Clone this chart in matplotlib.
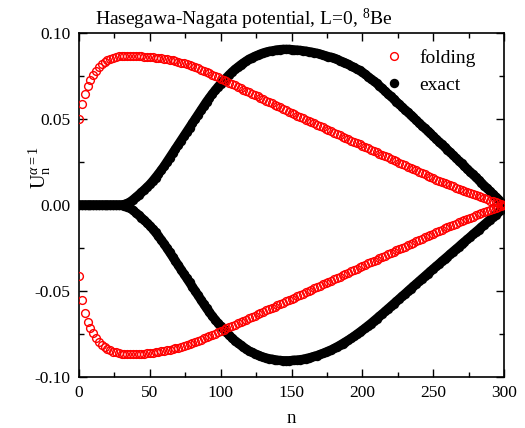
import numpy as np
import matplotlib
matplotlib.use("Agg")
import matplotlib.pyplot as plt
from matplotlib.ticker import MultipleLocator

plt.rcParams['font.family'] = ['Liberation Serif', 'DejaVu Serif']
plt.rcParams['mathtext.fontset'] = 'custom'
plt.rcParams['mathtext.rm'] = 'Liberation Serif'
plt.rcParams['mathtext.it'] = 'Liberation Serif:italic'

# n positions (step 2)
n = np.arange(0, 301, 2)

folding_upper = [
    0.0500, 0.0590, 0.0645, 0.0690, 0.0725, 0.0755, 0.0780, 0.0800, 0.0818, 0.0832,
    0.0843, 0.0851, 0.0857, 0.0861, 0.0864, 0.0866, 0.0867, 0.0868, 0.0868, 0.0868,
    0.0867, 0.0866, 0.0865, 0.0863, 0.0861, 0.0860, 0.0858, 0.0856, 0.0854, 0.0852,
    0.0850, 0.0848, 0.0845, 0.0841, 0.0837, 0.0833, 0.0828, 0.0823, 0.0818, 0.0813,
    0.0808, 0.0801, 0.0794, 0.0787, 0.0780, 0.0773, 0.0765, 0.0758, 0.0750, 0.0743,
    0.0735, 0.0727, 0.0719, 0.0711, 0.0703, 0.0695, 0.0687, 0.0679, 0.0671, 0.0663,
    0.0655, 0.0647, 0.0639, 0.0631, 0.0623, 0.0615, 0.0607, 0.0599, 0.0591, 0.0583,
    0.0575, 0.0567, 0.0559, 0.0551, 0.0543, 0.0536, 0.0528, 0.0520, 0.0513, 0.0505,
    0.0497, 0.0489, 0.0482, 0.0474, 0.0467, 0.0459, 0.0451, 0.0444, 0.0436, 0.0429,
    0.0421, 0.0413, 0.0406, 0.0398, 0.0391, 0.0383, 0.0375, 0.0368, 0.0360, 0.0353,
    0.0345, 0.0337, 0.0330, 0.0322, 0.0315, 0.0307, 0.0299, 0.0292, 0.0284, 0.0277,
    0.0269, 0.0261, 0.0254, 0.0246, 0.0239, 0.0231, 0.0223, 0.0216, 0.0208, 0.0201,
    0.0193, 0.0185, 0.0178, 0.0170, 0.0163, 0.0155, 0.0148, 0.0141, 0.0135, 0.0128,
    0.0121, 0.0114, 0.0108, 0.0101, 0.0095, 0.0088, 0.0082, 0.0075, 0.0069, 0.0062,
    0.0056, 0.0050, 0.0044, 0.0038, 0.0032, 0.0026, 0.0021, 0.0016, 0.0010, 0.0005,
    0.0000,
]

folding_lower = [
    -0.0410, -0.0550, -0.0630, -0.0680, -0.0715, -0.0745, -0.0773, -0.0795, -0.0812, -0.0825,
    -0.0836, -0.0845, -0.0852, -0.0857, -0.0861, -0.0864, -0.0866, -0.0867, -0.0868, -0.0868,
    -0.0868, -0.0867, -0.0866, -0.0865, -0.0863, -0.0861, -0.0859, -0.0857, -0.0854, -0.0851,
    -0.0848, -0.0845, -0.0841, -0.0837, -0.0833, -0.0829, -0.0824, -0.0819, -0.0814, -0.0809,
    -0.0803, -0.0797, -0.0790, -0.0783, -0.0776, -0.0769, -0.0762, -0.0755, -0.0748, -0.0741,
    -0.0733, -0.0726, -0.0718, -0.0711, -0.0703, -0.0696, -0.0688, -0.0681, -0.0673, -0.0666,
    -0.0658, -0.0651, -0.0643, -0.0636, -0.0628, -0.0621, -0.0613, -0.0606, -0.0598, -0.0591,
    -0.0583, -0.0576, -0.0568, -0.0561, -0.0553, -0.0546, -0.0538, -0.0530, -0.0523, -0.0515,
    -0.0508, -0.0500, -0.0492, -0.0485, -0.0477, -0.0470, -0.0462, -0.0454, -0.0447, -0.0439,
    -0.0432, -0.0424, -0.0416, -0.0409, -0.0401, -0.0394, -0.0386, -0.0378, -0.0371, -0.0363,
    -0.0356, -0.0348, -0.0340, -0.0333, -0.0325, -0.0318, -0.0310, -0.0302, -0.0295, -0.0287,
    -0.0280, -0.0272, -0.0264, -0.0257, -0.0249, -0.0242, -0.0234, -0.0226, -0.0219, -0.0211,
    -0.0204, -0.0196, -0.0188, -0.0181, -0.0173, -0.0166, -0.0158, -0.0151, -0.0143, -0.0136,
    -0.0129, -0.0122, -0.0115, -0.0108, -0.0101, -0.0094, -0.0087, -0.0080, -0.0074, -0.0067,
    -0.0061, -0.0054, -0.0048, -0.0042, -0.0036, -0.0030, -0.0024, -0.0018, -0.0012, -0.0006,
    0.0000,
]

exact_upper = [
    0.0000, 0.0000, 0.0000, 0.0000, 0.0000, 0.0000, 0.0000, 0.0000, 0.0000, 0.0000,
    0.0000, 0.0000, 0.0000, 0.0000, 0.0000, 0.0000, 0.0003, 0.0009, 0.0018, 0.0030,
    0.0044, 0.0058, 0.0073, 0.0088, 0.0104, 0.0120, 0.0139, 0.0159, 0.0180, 0.0202,
    0.0225, 0.0250, 0.0275, 0.0300, 0.0325, 0.0350, 0.0375, 0.0400, 0.0425, 0.0450,
    0.0475, 0.0500, 0.0525, 0.0550, 0.0575, 0.0600, 0.0623, 0.0645, 0.0666, 0.0686,
    0.0705, 0.0723, 0.0740, 0.0757, 0.0773, 0.0788, 0.0801, 0.0814, 0.0826, 0.0837,
    0.0848, 0.0856, 0.0864, 0.0871, 0.0878, 0.0884, 0.0889, 0.0893, 0.0896, 0.0899,
    0.0902, 0.0904, 0.0905, 0.0905, 0.0905, 0.0904, 0.0902, 0.0901, 0.0899, 0.0897,
    0.0895, 0.0892, 0.0889, 0.0886, 0.0882, 0.0878, 0.0873, 0.0868, 0.0863, 0.0859,
    0.0854, 0.0847, 0.0840, 0.0833, 0.0826, 0.0818, 0.0809, 0.0800, 0.0791, 0.0782,
    0.0772, 0.0760, 0.0747, 0.0734, 0.0721, 0.0708, 0.0693, 0.0678, 0.0662, 0.0647,
    0.0632, 0.0617, 0.0601, 0.0586, 0.0570, 0.0555, 0.0540, 0.0524, 0.0509, 0.0493,
    0.0478, 0.0462, 0.0447, 0.0431, 0.0416, 0.0400, 0.0384, 0.0369, 0.0353, 0.0338,
    0.0322, 0.0306, 0.0290, 0.0274, 0.0258, 0.0242, 0.0226, 0.0210, 0.0194, 0.0178,
    0.0162, 0.0146, 0.0130, 0.0113, 0.0097, 0.0081, 0.0065, 0.0049, 0.0032, 0.0016,
    0.0000,
]

exact_lower = [
    0.0000, 0.0000, 0.0000, 0.0000, 0.0000, 0.0000, 0.0000, 0.0000, 0.0000, 0.0000,
    0.0000, 0.0000, 0.0000, 0.0000, 0.0000, 0.0000, -0.0003, -0.0009, -0.0018, -0.0030,
    -0.0044, -0.0058, -0.0073, -0.0088, -0.0104, -0.0120, -0.0139, -0.0159, -0.0180, -0.0202,
    -0.0225, -0.0250, -0.0275, -0.0300, -0.0325, -0.0350, -0.0375, -0.0400, -0.0425, -0.0450,
    -0.0475, -0.0500, -0.0525, -0.0550, -0.0575, -0.0600, -0.0623, -0.0645, -0.0666, -0.0686,
    -0.0705, -0.0723, -0.0740, -0.0757, -0.0773, -0.0788, -0.0801, -0.0814, -0.0826, -0.0837,
    -0.0848, -0.0856, -0.0864, -0.0871, -0.0878, -0.0884, -0.0889, -0.0893, -0.0896, -0.0899,
    -0.0902, -0.0904, -0.0905, -0.0905, -0.0905, -0.0904, -0.0902, -0.0901, -0.0899, -0.0897,
    -0.0893, -0.0889, -0.0885, -0.0880, -0.0875, -0.0869, -0.0863, -0.0856, -0.0849, -0.0842,
    -0.0834, -0.0825, -0.0816, -0.0806, -0.0796, -0.0786, -0.0775, -0.0764, -0.0752, -0.0740,
    -0.0728, -0.0715, -0.0702, -0.0689, -0.0675, -0.0661, -0.0647, -0.0633, -0.0619, -0.0604,
    -0.0590, -0.0575, -0.0561, -0.0546, -0.0531, -0.0517, -0.0502, -0.0487, -0.0473, -0.0458,
    -0.0444, -0.0429, -0.0415, -0.0400, -0.0386, -0.0371, -0.0357, -0.0343, -0.0328, -0.0314,
    -0.0300, -0.0285, -0.0271, -0.0257, -0.0243, -0.0228, -0.0214, -0.0200, -0.0186, -0.0171,
    -0.0157, -0.0143, -0.0128, -0.0114, -0.0100, -0.0085, -0.0071, -0.0057, -0.0043, -0.0028,
    -0.0014,
]

x_ticks = [0, 50, 100, 150, 200, 250, 300]
y_ticks = [-0.10, -0.05, 0.00, 0.05, 0.10]

fig = plt.figure(figsize=(5.25, 4.28), dpi=100)
ax = fig.add_axes([79/525, 1-377/428, (504-79)/525, (377-33)/428])

for ys in (exact_upper, exact_lower):
    ax.plot(n, ys, '-', color='black', lw=6.6, solid_capstyle='round', zorder=2)
ax.plot(n, exact_upper, 'o', color='black', markersize=6.8, markeredgewidth=0, label='exact', zorder=2)
ax.plot(n, exact_lower, 'o', color='black', markersize=6.8, markeredgewidth=0, zorder=2)
ax.plot(n, folding_upper, 'o', mfc='none', mec='red', markersize=5.6, markeredgewidth=1.0, label='folding', zorder=3)
ax.plot(n, folding_lower, 'o', mfc='none', mec='red', markersize=5.6, markeredgewidth=1.0, zorder=3)

ax.set_xlim(0, 300)
ax.set_ylim(-0.10, 0.10)
ax.set_xticks(x_ticks)
ax.set_xticklabels([str(v) for v in x_ticks])
ax.set_yticks(y_ticks)
ax.set_yticklabels(['%.2f' % v for v in y_ticks])
ax.xaxis.set_minor_locator(MultipleLocator(25))
ax.yaxis.set_minor_locator(MultipleLocator(0.025))
ax.tick_params(which='both', direction='in', top=True, right=True, labelsize=12.5, width=1.0)
ax.tick_params(which='major', length=6, pad=6)
ax.tick_params(which='minor', length=3.5)
for s in ax.spines.values():
    s.set_linewidth(1.2)

ax.set_xlabel('n', fontsize=13.5, labelpad=6)
fig.text(40/525, 1-168/428, r'$\mathrm{U}_\mathrm{n}^{\alpha=1}$', rotation=90,
         fontsize=14.5, ha='center', va='center')
fig.text(244/525, 1-19/428, r'Hasegawa-Nagata potential, L=0, $^{8}$Be', fontsize=14,
         ha='center', va='center')

handles, labels = ax.get_legend_handles_labels()
order = [1, 0]
leg = ax.legend([handles[i] for i in order], [labels[i] for i in order], loc='upper left',
                frameon=False, fontsize=14, handletextpad=0.8, borderaxespad=0.0,
                labelspacing=0.45, handlelength=1.0, bbox_to_anchor=(0.70, 0.975))

fig.savefig('out.png', dpi=100)
